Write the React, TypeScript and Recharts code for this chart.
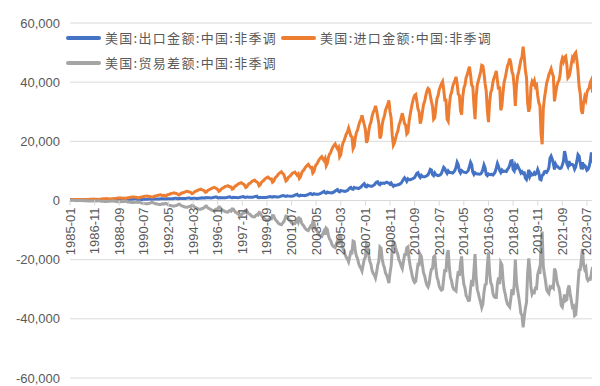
import { LineChart, Line, XAxis, YAxis, CartesianGrid, Legend } from 'recharts';

// US trade with China, monthly, not seasonally adjusted, in USD bn (shown in USD mn)
const START_YEAR = 1985;

const IMPORTS = [
  0.28, 0.25, 0.27, 0.30, 0.31, 0.32, 0.34, 0.35, 0.36, 0.37, 0.34, 0.35,
  0.33, 0.28, 0.30, 0.36, 0.38, 0.40, 0.43, 0.45, 0.46, 0.48, 0.45, 0.44,
  0.42, 0.36, 0.38, 0.46, 0.50, 0.53, 0.57, 0.60, 0.62, 0.64, 0.58, 0.55,
  0.58, 0.50, 0.52, 0.62, 0.68, 0.72, 0.77, 0.81, 0.84, 0.87, 0.81, 0.78,
  0.82, 0.70, 0.74, 0.88, 0.95, 1.00, 1.07, 1.13, 1.17, 1.21, 1.14, 1.10,
  1.05, 0.90, 0.95, 1.12, 1.21, 1.27, 1.36, 1.43, 1.48, 1.52, 1.45, 1.40,
  1.30, 1.12, 1.18, 1.40, 1.50, 1.57, 1.68, 1.78, 1.85, 1.90, 1.80, 1.72,
  1.75, 1.50, 1.60, 1.90, 2.05, 2.12, 2.28, 2.42, 2.50, 2.58, 2.45, 2.40,
  2.20, 1.85, 2.00, 2.35, 2.52, 2.60, 2.78, 2.93, 3.02, 3.10, 2.92, 2.85,
  2.70, 2.30, 2.45, 2.85, 3.10, 3.20, 3.42, 3.60, 3.70, 3.82, 3.60, 3.50,
  3.30, 2.80, 2.90, 3.35, 3.62, 3.75, 4.00, 4.20, 4.32, 4.45, 4.22, 4.05,
  3.70, 3.10, 3.25, 3.80, 4.10, 4.25, 4.52, 4.75, 4.88, 5.02, 4.75, 4.58,
  4.55, 3.80, 4.00, 4.60, 4.95, 5.15, 5.48, 5.75, 5.90, 6.05, 5.75, 5.55,
  5.20, 4.40, 4.60, 5.25, 5.65, 5.85, 6.25, 6.55, 6.72, 6.88, 6.50, 6.25,
  5.95, 5.00, 5.30, 6.05, 6.50, 6.75, 7.20, 7.55, 7.75, 7.92, 7.50, 7.25,
  7.30, 6.20, 6.50, 7.40, 7.95, 8.25, 8.80, 9.20, 9.45, 9.70, 9.20, 8.85,
  7.80, 6.60, 6.90, 7.70, 8.10, 8.35, 8.90, 9.30, 9.45, 9.60, 9.05, 8.55,
  9.00, 7.50, 8.00, 9.30, 9.95, 10.30, 11.00, 11.50, 11.85, 12.20, 11.60, 11.10,
  11.20, 9.30, 9.80, 11.30, 12.10, 12.50, 13.40, 14.00, 14.40, 14.80, 14.10, 13.50,
  14.20, 11.80, 12.60, 14.60, 15.70, 16.20, 17.30, 18.10, 18.60, 19.10, 18.20, 17.50,
  18.0, 14.8, 15.5, 18.0, 19.5, 20.2, 21.5, 22.5, 23.2, 24.5, 23.2, 21.8,
  21.5, 17.5, 18.3, 21.3, 23.0, 23.8, 25.4, 26.6, 27.4, 28.8, 27.2, 25.6,
  24.0, 19.5, 20.5, 23.5, 25.5, 26.5, 28.5, 29.8, 30.5, 32.0, 30.5, 28.2,
  26.0, 21.0, 22.0, 25.5, 27.5, 28.5, 30.5, 31.5, 32.5, 33.8, 30.0, 28.0,
  22.0, 18.7, 19.5, 21.0, 22.5, 23.5, 25.5, 26.5, 28.0, 29.5, 27.8, 26.0,
  25.5, 22.5, 23.0, 26.5, 29.0, 31.0, 33.0, 34.5, 35.5, 35.8, 33.5, 31.0,
  30.0, 26.0, 27.4, 30.0, 32.5, 33.5, 35.5, 37.0, 37.9, 37.5, 35.5, 33.5,
  31.8, 27.5, 28.0, 31.5, 34.5, 35.5, 37.5, 38.5, 39.5, 40.2, 37.5, 34.0,
  34.0, 27.5, 26.8, 32.0, 35.5, 36.5, 38.5, 39.6, 40.5, 41.8, 39.5, 36.0,
  35.5, 30.5, 29.0, 35.0, 38.0, 39.0, 41.5, 42.5, 44.0, 45.2, 42.5, 39.0,
  38.5, 32.5, 27.5, 35.0, 39.0, 40.5, 42.0, 43.5, 45.7, 45.5, 43.0, 39.5,
  37.0, 30.5, 26.5, 33.0, 36.5, 37.5, 40.0, 41.5, 42.5, 43.8, 40.5, 37.5,
  38.5, 30.5, 32.0, 36.5, 40.0, 41.5, 43.5, 45.5, 46.5, 48.0, 46.5, 43.5,
  42.5, 38.5, 32.0, 38.5, 42.0, 43.5, 45.5, 47.5, 48.5, 52.0, 48.5, 44.0,
  41.5, 33.0, 30.0, 31.5, 38.5, 40.2, 39.5, 40.5, 38.5, 39.0, 35.5, 33.0,
  32.0, 22.5, 19.0, 31.0, 34.5, 37.0, 39.7, 41.0, 42.5, 43.5, 44.5, 43.0,
  42.0, 33.5, 36.2, 38.5, 40.0, 40.5, 42.5, 46.5, 48.0, 47.0, 48.5, 48.8,
  46.0, 41.5, 42.0, 43.5, 46.0, 48.2, 47.5, 49.5, 50.0, 47.5, 44.0, 38.5,
  36.2, 30.5, 29.3, 33.0, 35.0, 34.0, 36.5, 37.5, 38.0, 40.0, 40.8, 36.5,
  38.5, 32.0, 30.5, 31.6,
];

const EXPORTS = [
  0.30, 0.28, 0.33, 0.35, 0.31, 0.30, 0.29, 0.31, 0.32, 0.35, 0.36, 0.34,
  0.25, 0.22, 0.27, 0.26, 0.24, 0.23, 0.24, 0.25, 0.26, 0.29, 0.30, 0.28,
  0.26, 0.24, 0.29, 0.28, 0.27, 0.27, 0.28, 0.29, 0.30, 0.32, 0.33, 0.33,
  0.36, 0.35, 0.40, 0.40, 0.39, 0.40, 0.41, 0.42, 0.43, 0.47, 0.50, 0.51,
  0.44, 0.42, 0.48, 0.47, 0.46, 0.45, 0.44, 0.46, 0.48, 0.52, 0.56, 0.55,
  0.40, 0.36, 0.40, 0.38, 0.37, 0.36, 0.36, 0.38, 0.40, 0.44, 0.47, 0.47,
  0.48, 0.45, 0.52, 0.50, 0.48, 0.48, 0.47, 0.50, 0.52, 0.57, 0.62, 0.63,
  0.55, 0.52, 0.62, 0.60, 0.58, 0.57, 0.57, 0.60, 0.62, 0.68, 0.72, 0.72,
  0.62, 0.60, 0.72, 0.70, 0.68, 0.68, 0.67, 0.70, 0.74, 0.80, 0.86, 0.88,
  0.68, 0.66, 0.78, 0.74, 0.72, 0.70, 0.70, 0.73, 0.76, 0.84, 0.90, 0.88,
  0.90, 0.88, 1.00, 0.95, 0.92, 0.90, 0.88, 0.92, 0.98, 1.08, 1.15, 1.20,
  0.92, 0.88, 1.00, 0.96, 0.94, 0.92, 0.90, 0.93, 1.00, 1.10, 1.18, 1.25,
  0.98, 0.95, 1.08, 1.02, 1.00, 0.98, 0.96, 1.00, 1.07, 1.18, 1.25, 1.35,
  1.10, 1.05, 1.20, 1.15, 1.12, 1.10, 1.08, 1.12, 1.18, 1.30, 1.38, 1.45,
  1.00, 0.95, 1.10, 1.05, 1.02, 1.00, 0.98, 1.02, 1.10, 1.20, 1.25, 1.35,
  1.20, 1.15, 1.35, 1.28, 1.25, 1.22, 1.20, 1.28, 1.38, 1.50, 1.58, 1.65,
  1.45, 1.35, 1.55, 1.50, 1.48, 1.45, 1.42, 1.50, 1.60, 1.80, 1.95, 2.10,
  1.65, 1.55, 1.80, 1.72, 1.70, 1.68, 1.65, 1.75, 1.85, 2.05, 2.25, 2.40,
  2.10, 2.00, 2.30, 2.20, 2.15, 2.15, 2.10, 2.25, 2.40, 2.65, 2.90, 3.10,
  2.60, 2.45, 2.85, 2.70, 2.65, 2.60, 2.55, 2.70, 2.90, 3.20, 3.50, 3.70,
  3.10, 2.90, 3.40, 3.25, 3.20, 3.15, 3.05, 3.25, 3.40, 3.80, 4.20, 4.40,
  3.90, 3.80, 4.40, 4.20, 4.20, 4.15, 4.05, 4.30, 4.55, 5.00, 5.40, 5.70,
  4.80, 4.60, 5.20, 5.00, 4.90, 4.85, 4.80, 5.10, 5.30, 5.80, 6.20, 6.30,
  5.50, 5.30, 5.90, 5.80, 5.90, 5.80, 6.00, 6.20, 6.00, 5.90, 5.50, 5.90,
  5.30, 4.80, 5.20, 5.10, 5.20, 5.30, 5.40, 5.60, 5.90, 6.50, 7.20, 7.70,
  7.20, 6.50, 7.30, 7.00, 7.00, 7.20, 7.30, 7.50, 7.80, 8.50, 9.20, 9.40,
  8.30, 7.80, 8.50, 8.10, 8.00, 8.00, 8.20, 8.40, 8.70, 9.50, 10.50, 10.30,
  8.80, 8.40, 9.30, 8.70, 8.60, 8.40, 8.50, 8.70, 9.20, 10.20, 11.20, 10.80,
  9.80, 9.20, 10.00, 9.50, 9.50, 9.40, 9.30, 9.60, 10.20, 11.20, 12.90, 12.10,
  10.00, 9.30, 10.10, 9.80, 9.60, 9.50, 9.40, 9.70, 10.20, 11.50, 12.90, 12.10,
  9.50, 8.80, 9.40, 9.10, 9.00, 9.00, 8.90, 9.00, 9.50, 10.50, 12.00, 11.00,
  8.80, 8.40, 9.00, 8.80, 8.70, 8.90, 8.60, 9.00, 9.70, 11.00, 12.50, 11.50,
  10.20, 9.50, 10.30, 9.80, 9.90, 9.90, 9.80, 10.50, 11.00, 12.00, 13.40, 13.50,
  10.50, 10.00, 12.00, 11.20, 11.80, 11.00, 10.30, 9.30, 9.70, 9.10, 9.30, 7.60,
  7.10, 8.40, 10.40, 8.20, 9.10, 8.60, 8.70, 9.40, 8.90, 9.30, 10.50, 9.40,
  7.20, 7.00, 8.50, 8.80, 9.70, 9.80, 9.50, 10.10, 11.10, 14.30, 15.00, 14.00,
  12.50, 10.50, 12.30, 11.60, 11.40, 11.00, 10.80, 11.00, 12.00, 13.20, 16.70, 15.00,
  12.50, 11.60, 13.30, 12.00, 12.30, 12.20, 11.80, 10.60, 11.40, 13.30, 15.50, 15.00,
  12.80, 10.60, 12.90, 11.30, 11.80, 11.40, 10.20, 10.50, 11.50, 13.40, 16.20, 14.00,
  12.00, 10.80, 12.30, 11.80,
];

const BALANCE = [
  0.02, 0.03, 0.06, 0.05, 0.00, -0.02, -0.05, -0.04, -0.04, -0.02, 0.02, -0.01,
  -0.08, -0.06, -0.03, -0.10, -0.14, -0.17, -0.19, -0.20, -0.20, -0.19, -0.15, -0.16,
  -0.16, -0.12, -0.09, -0.18, -0.23, -0.26, -0.29, -0.31, -0.32, -0.32, -0.25, -0.22,
  -0.22, -0.15, -0.12, -0.22, -0.29, -0.32, -0.36, -0.39, -0.41, -0.40, -0.31, -0.27,
  -0.38, -0.28, -0.26, -0.41, -0.49, -0.55, -0.63, -0.67, -0.69, -0.69, -0.58, -0.55,
  -0.65, -0.54, -0.55, -0.74, -0.84, -0.91, -1.00, -1.05, -1.08, -1.08, -0.98, -0.93,
  -0.82, -0.67, -0.66, -0.90, -1.02, -1.09, -1.21, -1.28, -1.33, -1.33, -1.18, -1.09,
  -1.20, -0.98, -0.98, -1.30, -1.47, -1.55, -1.71, -1.82, -1.88, -1.90, -1.73, -1.68,
  -1.58, -1.25, -1.28, -1.65, -1.84, -1.92, -2.11, -2.23, -2.28, -2.30, -2.06, -1.97,
  -2.02, -1.64, -1.67, -2.11, -2.38, -2.50, -2.72, -2.87, -2.94, -2.98, -2.70, -2.62,
  -2.40, -1.92, -1.90, -2.40, -2.70, -2.85, -3.12, -3.28, -3.34, -3.37, -3.07, -2.85,
  -2.78, -2.22, -2.25, -2.84, -3.16, -3.33, -3.62, -3.82, -3.88, -3.92, -3.57, -3.33,
  -3.57, -2.85, -2.92, -3.58, -3.95, -4.17, -4.52, -4.75, -4.83, -4.87, -4.50, -4.20,
  -4.10, -3.35, -3.40, -4.10, -4.53, -4.75, -5.17, -5.43, -5.54, -5.58, -5.12, -4.80,
  -4.95, -4.05, -4.20, -5.00, -5.48, -5.75, -6.22, -6.53, -6.65, -6.72, -6.25, -5.90,
  -6.10, -5.05, -5.15, -6.12, -6.70, -7.03, -7.60, -7.92, -8.07, -8.20, -7.62, -7.20,
  -6.35, -5.25, -5.35, -6.20, -6.62, -6.90, -7.48, -7.80, -7.85, -7.80, -7.10, -6.45,
  -7.35, -5.95, -6.20, -7.58, -8.25, -8.62, -9.35, -9.75, -10.00, -10.15, -9.35, -8.70,
  -9.10, -7.30, -7.50, -9.10, -9.95, -10.35, -11.30, -11.75, -12.00, -12.15, -11.20, -10.40,
  -11.60, -9.35, -9.75, -11.90, -13.05, -13.60, -14.75, -15.40, -15.70, -15.90, -14.70, -13.80,
  -14.9, -11.9, -12.1, -14.75, -16.3, -17.05, -18.45, -19.25, -19.8, -20.7, -19.0, -17.4,
  -17.6, -13.7, -13.9, -17.1, -18.8, -19.65, -21.35, -22.3, -22.85, -23.8, -21.8, -19.9,
  -19.2, -14.9, -15.3, -18.5, -20.6, -21.65, -23.7, -24.7, -25.2, -26.2, -24.3, -21.9,
  -20.5, -15.7, -16.1, -19.7, -21.6, -22.7, -24.5, -25.3, -26.5, -27.9, -24.5, -22.1,
  -16.7, -13.9, -14.3, -15.9, -17.3, -18.2, -20.1, -20.9, -22.1, -23.0, -20.6, -18.3,
  -18.3, -16.0, -15.7, -19.5, -22.0, -23.8, -25.7, -27.0, -27.7, -27.3, -24.3, -21.6,
  -21.7, -18.2, -18.9, -21.9, -24.5, -25.5, -27.3, -28.6, -29.2, -28.0, -25.0, -23.2,
  -23.0, -19.1, -18.7, -22.8, -25.9, -27.1, -29.0, -29.8, -30.3, -30.0, -26.3, -23.2,
  -24.2, -18.3, -16.8, -22.5, -26.0, -27.1, -29.2, -30.0, -30.3, -30.6, -26.6, -23.9,
  -25.5, -21.2, -18.9, -25.2, -28.4, -29.5, -32.1, -32.8, -33.8, -33.7, -29.6, -26.9,
  -29.0, -23.7, -18.1, -25.9, -30.0, -31.5, -33.1, -34.5, -36.2, -35.0, -31.0, -28.5,
  -28.2, -22.1, -17.5, -24.2, -27.8, -28.6, -31.4, -32.5, -32.8, -32.8, -28.0, -26.0,
  -28.3, -21.0, -21.7, -26.7, -30.1, -31.6, -33.7, -35.0, -35.5, -36.0, -33.1, -30.0,
  -32.0, -28.5, -20.0, -27.3, -30.2, -32.5, -35.2, -38.2, -38.8, -42.9, -39.2, -36.4,
  -34.4, -24.6, -19.6, -23.3, -29.4, -31.6, -30.8, -31.1, -29.6, -29.7, -25.0, -23.6,
  -24.8, -15.5, -10.5, -22.2, -24.8, -27.2, -30.2, -30.9, -31.4, -29.2, -29.5, -29.0,
  -29.5, -23.0, -23.9, -26.9, -28.6, -29.5, -31.7, -35.5, -36.0, -33.8, -31.8, -33.8,
  -33.5, -29.9, -28.7, -31.5, -33.7, -36.0, -35.7, -38.9, -38.6, -34.2, -28.5, -23.5,
  -23.4, -19.9, -16.4, -21.7, -23.2, -22.6, -26.3, -27.0, -26.5, -26.6, -24.6, -22.5,
  -26.5, -21.2, -18.2, -19.8,
];

const X_TICKS = [
  '1985-01', '1986-11', '1988-09', '1990-07', '1992-05', '1994-03', '1996-01', '1997-11',
  '1999-09', '2001-07', '2003-05', '2005-03', '2007-01', '2008-11', '2010-09', '2012-07',
  '2014-05', '2016-03', '2018-01', '2019-11', '2021-09', '2023-07',
];
const Y_TICKS = [-60000, -40000, -20000, 0, 20000, 40000, 60000];

const SERIES = [
  { key: 'exp', name: '美国:出口金额:中国:非季调', color: '#4472C4' },
  { key: 'imp', name: '美国:进口金额:中国:非季调', color: '#ED7D31' },
  { key: 'bal', name: '美国:贸易差额:中国:非季调', color: '#A5A5A5' },
];

const months = IMPORTS.map(
  (_, i) => `${START_YEAR + Math.floor(i / 12)}-${String((i % 12) + 1).padStart(2, '0')}`
);
const rows = months.map((m, i) => ({
  month: m,
  exp: Math.round(EXPORTS[i] * 1000),
  imp: Math.round(IMPORTS[i] * 1000),
  bal: Math.round(BALANCE[i] * 1000),
}));

const TEXT = '#595959';
const GRID = '#d9d9d9';
const CHART_H = 378;
const PLOT_TOP = 15;
const PLOT_H = 355;
const AXIS_H = 1;
const ZERO_Y = PLOT_TOP + PLOT_H / 2;

// category labels hang below the zero line, not the bottom of the plot
function MonthTick({ x, payload }: any) {
  const ty = ZERO_Y + 7;
  return (
    <g>
      <line x1={x} x2={x} y1={ZERO_Y} y2={ZERO_Y + 5} stroke={GRID} />
      <text
        x={x}
        y={ty}
        dy="0.35em"
        transform={`rotate(-90, ${x}, ${ty})`}
        textAnchor="end"
        fill={TEXT}
        fontSize={13}
        fontFamily="'Liberation Sans', Arial, sans-serif"
      >
        {payload.value}
      </text>
    </g>
  );
}

function LegendItem({ name, color }: { name: string; color: string }) {
  return (
    <span style={{ display: 'flex', alignItems: 'center', marginRight: 4 }}>
      <span style={{ width: 35, height: 4, background: color, borderRadius: 2, marginRight: 4 }} />
      <span>{name}</span>
    </span>
  );
}

function LegendBox() {
  const row = { display: 'flex', alignItems: 'center', height: 25 } as const;
  return (
    <div
      style={{
        fontFamily: "'Noto Sans CJK SC', sans-serif",
        fontSize: 13,
        letterSpacing: 1.3,
        color: TEXT,
        lineHeight: '16px',
        whiteSpace: 'nowrap',
      }}
    >
      <div style={row}>
        <LegendItem name={SERIES[0].name} color={SERIES[0].color} />
        <LegendItem name={SERIES[1].name} color={SERIES[1].color} />
      </div>
      <div style={row}>
        <LegendItem name={SERIES[2].name} color={SERIES[2].color} />
      </div>
    </div>
  );
}

export default function App() {
  return (
    <LineChart
      width={591}
      height={CHART_H}
      data={rows}
      margin={{ top: PLOT_TOP, right: 0, bottom: CHART_H - PLOT_TOP - PLOT_H - AXIS_H, left: 0 }}
    >
      <CartesianGrid vertical={false} stroke={GRID} />
      <XAxis
        dataKey="month"
        ticks={X_TICKS}
        interval={0}
        height={AXIS_H}
        axisLine={false}
        tickLine={false}
        tick={<MonthTick />}
        padding={{ left: 0, right: 2 }}
      />
      <YAxis
        width={62}
        domain={[-60000, 60000]}
        ticks={Y_TICKS}
        axisLine={false}
        tickLine={false}
        tickSize={0}
        tickMargin={10}
        tickFormatter={(v: number) => v.toLocaleString('en-US')}
        tick={{ fill: TEXT, fontSize: 13, fontFamily: "'Liberation Sans', Arial, sans-serif" }}
      />
      {SERIES.map((s) => (
        <Line
          key={s.key}
          type="linear"
          dataKey={s.key}
          name={s.name}
          stroke={s.color}
          strokeWidth={3}
          dot={false}
          isAnimationActive={false}
        />
      ))}
      <Legend
        layout="horizontal"
        verticalAlign="middle"
        align="center"
        content={<LegendBox />}
        wrapperStyle={{ left: 58, top: 17, width: 'auto' }}
      />
    </LineChart>
  );
}
